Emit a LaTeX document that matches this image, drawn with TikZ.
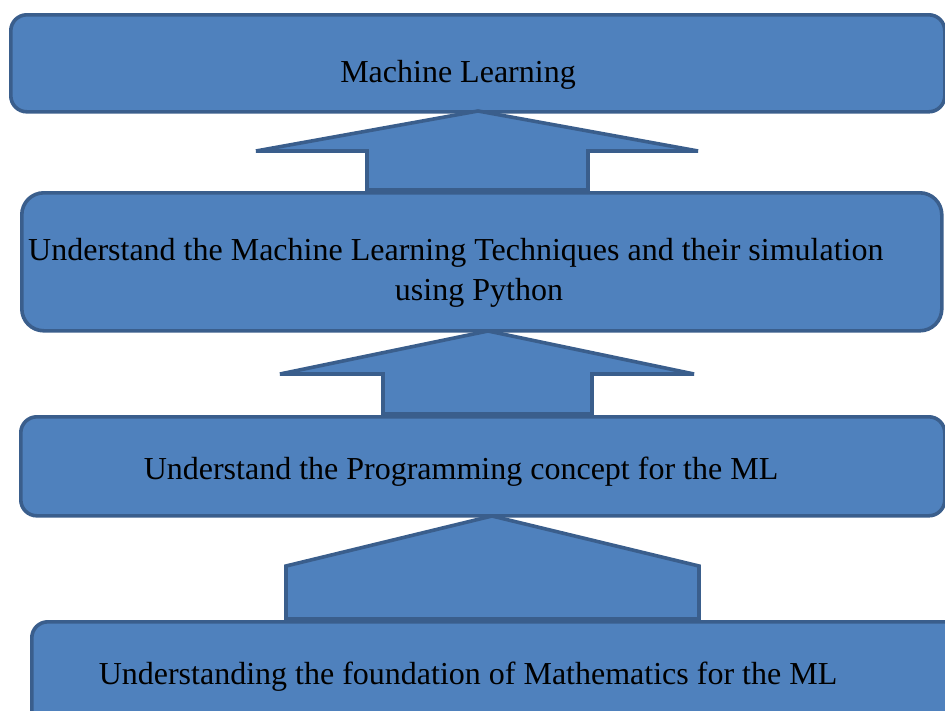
\documentclass[tikz,border=0pt]{standalone}
\usepackage{fontspec}
\setmainfont{Liberation Serif}
\definecolor{boxfill}{HTML}{4F81BD}
\definecolor{boxline}{HTML}{3A5E8C}
\begin{document}
\begin{tikzpicture}[x=1pt,y=-1pt,
  box/.style={draw=boxline,fill=boxfill,line width=3.6pt,rectangle,rounded corners=#1,inner sep=0pt,anchor=north west},
  blockarrow/.style={draw=boxline,fill=boxfill,line width=3.6pt,line join=miter,miter limit=1.5},
  lbl/.style={font=\fontsize{32}{38}\selectfont,inner sep=0pt,text=black}]
\useasboundingbox (0,0) rectangle (945,710);
\clip (0,0) rectangle (945,710);
% boxes
\node[box=16pt,minimum width=934pt,minimum height=97pt] (b1) at (9,13) {};
\node[box=22pt,minimum width=920pt,minimum height=138pt] (b2) at (20,191) {};
\node[box=16pt,minimum width=924pt,minimum height=99pt] (b3) at (19,415) {};
\node[box=16pt,minimum width=940pt,minimum height=140pt] (b4) at (30,620) {};
% block arrows
\draw[blockarrow] (256,151) -- (478,111) -- (698,151) -- (588,151) -- (588,190) -- (367,190) -- (367,151) -- cycle;
\draw[blockarrow] (280,374) -- (488,331) -- (694,374) -- (592,374) -- (592,414) -- (383,414) -- (383,374) -- cycle;
\draw[blockarrow] (286,566) -- (492,516) -- (699,566) -- (699,619) -- (286,619) -- cycle;
% texts
\node[lbl,anchor=base] (t1) at (458,82) {Machine Learning};
\node[lbl,anchor=base west] (t2a) at (28,260) {Understand the Machine Learning Techniques and their simulation};
\node[lbl,anchor=base] (t2b) at (479,300) {using Python};
\node[lbl,anchor=base] (t3) at (461,479) {Understand the Programming concept for the ML};
\node[lbl,anchor=base] (t4) at (468,684) {Understanding the foundation of Mathematics for the ML};
\end{tikzpicture}
\end{document}
